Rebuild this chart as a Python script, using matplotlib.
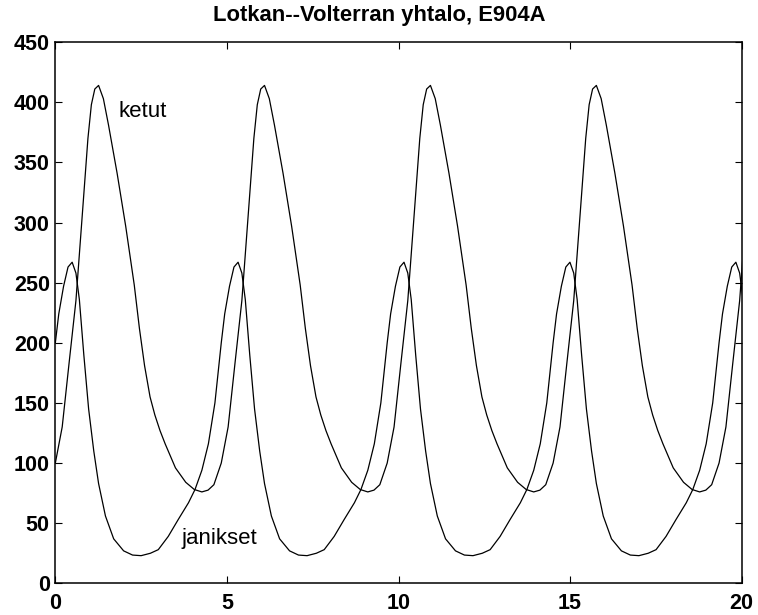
import matplotlib
matplotlib.use("Agg")
import matplotlib.pyplot as plt

# ketut (foxes)
t_ketut = [0.0, 0.2, 0.4, 0.6, 0.8, 0.95, 1.05, 1.15, 1.26, 1.4, 1.55, 1.8, 2.05, 2.3, 2.45,
           2.6, 2.76, 2.9, 3.05, 3.2, 3.5, 3.8, 4.05, 4.27, 4.45, 4.62,
           4.835, 5.035, 5.235, 5.435, 5.635, 5.785, 5.885, 5.985, 6.095, 6.235, 6.385, 6.635,
           6.885, 7.135, 7.285, 7.435, 7.595, 7.735, 7.885, 8.035, 8.335, 8.635, 8.885, 9.105,
           9.285, 9.455,
           9.67, 9.87, 10.07, 10.27, 10.47, 10.62, 10.72, 10.82, 10.93, 11.07, 11.22, 11.47,
           11.72, 11.97, 12.12, 12.27, 12.43, 12.57, 12.72, 12.87, 13.17, 13.47, 13.72, 13.94,
           14.12, 14.29,
           14.505, 14.705, 14.905, 15.105, 15.305, 15.455, 15.555, 15.655, 15.765, 15.905, 16.055,
           16.305, 16.555, 16.805, 16.955, 17.105, 17.265, 17.405, 17.555, 17.705, 18.005, 18.305,
           18.555, 18.775, 18.955, 19.125,
           19.34, 19.54, 19.74, 19.94, 20.14]
ketut = [100, 130, 183, 235, 312, 370, 398, 411, 414, 403, 381, 341, 297, 248, 212,
         181, 155, 140, 127, 116, 96, 84, 78, 76, 77.5, 82,
         100, 130, 183, 235, 312, 370, 398, 411, 414, 403, 381, 341,
         297, 248, 212, 181, 155, 140, 127, 116, 96, 84, 78, 76,
         77.5, 82,
         100, 130, 183, 235, 312, 370, 398, 411, 414, 403, 381, 341,
         297, 248, 212, 181, 155, 140, 127, 116, 96, 84, 78, 76,
         77.5, 82,
         100, 130, 183, 235, 312, 370, 398, 411, 414, 403, 381,
         341, 297, 248, 212, 181, 155, 140, 127, 116, 96, 84,
         78, 76, 77.5, 82,
         100, 130, 183, 235, 312]

# janikset (hares)
t_janikset = [0.0, 0.1, 0.24, 0.37, 0.49, 0.6, 0.7, 0.83, 0.97, 1.12, 1.26, 1.46, 1.7, 1.99,
              2.25, 2.5, 2.77, 3.0, 3.29, 3.58, 3.88, 4.07, 4.27, 4.46, 4.65,
              4.835, 4.935, 5.075, 5.205, 5.325, 5.435, 5.535, 5.665, 5.805, 5.955, 6.095, 6.295,
              6.535, 6.825, 7.085, 7.335, 7.605, 7.835, 8.125, 8.415, 8.715, 8.905, 9.105, 9.295, 9.485,
              9.67, 9.77, 9.91, 10.04, 10.16, 10.27, 10.37, 10.5, 10.64, 10.79, 10.93, 11.13,
              11.37, 11.66, 11.92, 12.17, 12.44, 12.67, 12.96, 13.25, 13.55, 13.74, 13.94, 14.13, 14.32,
              14.505, 14.605, 14.745, 14.875, 14.995, 15.105, 15.205, 15.335, 15.475, 15.625, 15.765,
              15.965, 16.205, 16.495, 16.755, 17.005, 17.275, 17.505, 17.795, 18.085, 18.385, 18.575,
              18.775, 18.965, 19.155,
              19.34, 19.44, 19.58, 19.71, 19.83, 19.94, 20.04]
janikset = [200, 224, 247, 263, 267, 258, 236, 190, 145, 110, 83, 56, 37, 27,
            23.5, 23, 25, 28, 39, 53, 67, 78, 94, 116, 150,
            200, 224, 247, 263, 267, 258, 236, 190, 145, 110, 83, 56,
            37, 27, 23.5, 23, 25, 28, 39, 53, 67, 78, 94, 116, 150,
            200, 224, 247, 263, 267, 258, 236, 190, 145, 110, 83, 56,
            37, 27, 23.5, 23, 25, 28, 39, 53, 67, 78, 94, 116, 150,
            200, 224, 247, 263, 267, 258, 236, 190, 145, 110, 83,
            56, 37, 27, 23.5, 23, 25, 28, 39, 53, 67, 78,
            94, 116, 150,
            200, 224, 247, 263, 267, 258, 236]

x_ticks = [0, 5, 10, 15, 20]
y_ticks = [0, 50, 100, 150, 200, 250, 300, 350, 400, 450]

plt.rcParams['font.family'] = ['Liberation Sans', 'DejaVu Sans']

fig = plt.figure(figsize=(7.58, 6.15), dpi=100)
ax = fig.add_axes([0.073, 0.0515, 0.9055, 0.880])

ax.plot(t_ketut, ketut, color='black', lw=0.9)
ax.plot(t_janikset, janikset, color='black', lw=0.9)

ax.text(1.85, 392, 'ketut', fontsize=16, va='center', ha='left')
ax.text(3.69, 37, 'janikset', fontsize=16, va='center', ha='left')

ax.set_xlim(0, 20)
ax.set_ylim(0, 450)
ax.set_xticks(x_ticks)
ax.set_yticks(y_ticks)
ax.tick_params(direction='in', length=5, width=0.8, top=True, right=True,
               labelsize=15.5)
ax.tick_params(axis='x', pad=7)
ax.tick_params(axis='y', pad=4)
for lab in ax.get_xticklabels() + ax.get_yticklabels():
    lab.set_fontweight('bold')
for sp in ax.spines.values():
    sp.set_linewidth(1.1)

fig.text(0.5, 0.974, 'Lotkan--Volterran yhtalo, E904A', ha='center', va='center',
         fontsize=15.8, fontweight='bold')

fig.savefig('out.png', dpi=100)
